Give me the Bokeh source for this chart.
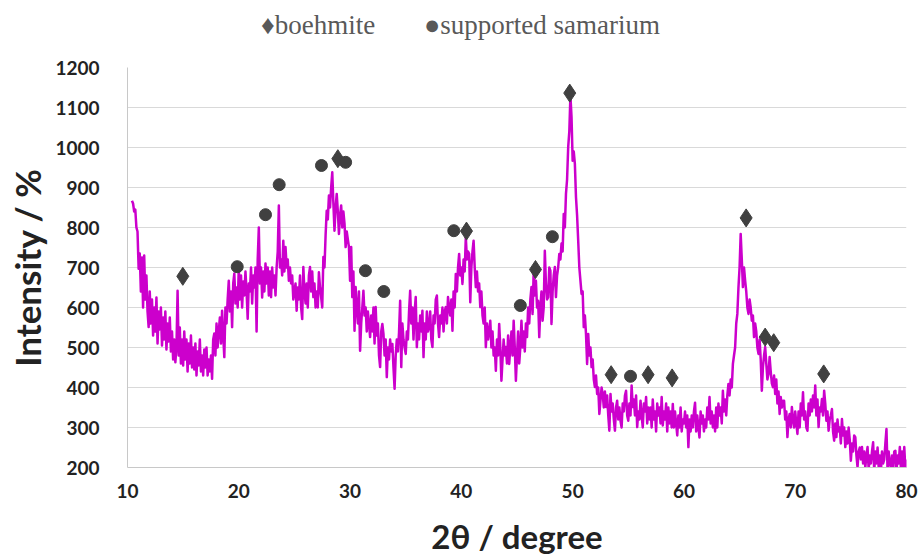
from bokeh.plotting import figure
from bokeh.models import Range1d, FixedTicker, Div
from bokeh.layouts import column
from bokeh.embed import file_html
from bokeh.resources import INLINE

# XRD scan: 2-theta grid (start and step of the scan) and measured intensity
two_theta_start = 10.4
two_theta_step = 0.1
intensity = [
    867, 860, 840, 845, 800, 790,
    697, 735, 640, 725, 600, 730, 620, 680, 590, 551,
    640, 560, 620, 530, 600, 540, 625, 510, 590, 545,
    600, 505, 575, 520, 590, 495, 560, 515, 575, 490,
    540, 470, 520, 463, 500, 642, 480, 550, 460, 520,
    455, 540, 470, 520, 440, 510, 460, 530, 450, 500,
    445, 510, 430, 490, 455, 520, 440, 480, 430, 495,
    450, 500, 430, 470, 440, 480, 422, 520, 535, 480,
    560, 500, 540, 575, 510, 592, 530, 476, 600, 560,
    620, 667, 590, 640, 551, 660, 685, 610, 650, 600,
    700, 620, 680, 600, 665, 630, 690, 640, 572, 660,
    640, 700, 610, 680, 650, 700, 540, 720, 800, 660,
    700, 625, 690, 640, 710, 660, 700, 630, 690, 626,
    700, 650, 680, 630, 700, 740, 855, 700, 720, 680,
    767, 690, 751, 700, 720, 667, 700, 660, 680, 620,
    640, 660, 592, 650, 620, 680, 600, 571, 701, 640,
    610, 660, 600, 680, 701, 640, 690, 626, 660, 600,
    640, 600, 688, 650, 626, 600, 726, 700, 780, 842,
    820, 880, 850, 900, 938, 860, 792, 850, 884, 840,
    784, 830, 855, 800, 840, 810, 751, 790, 770, 751,
    667, 751, 626, 690, 542, 651, 600, 560, 640, 492,
    560, 600, 642, 580, 600, 540, 590, 560, 526, 580,
    540, 600, 510, 601, 530, 560, 480, 451, 540, 559,
    534, 480, 520, 426, 500, 470, 520, 490, 509, 450,
    397, 480, 520, 490, 538, 617, 451, 560, 520, 500,
    484, 540, 520, 590, 642, 560, 600, 520, 590, 626,
    501, 560, 520, 580, 540, 592, 476, 560, 520, 590,
    540, 551, 590, 520, 501, 580, 560, 620, 630, 560,
    526, 580, 560, 600, 540, 590, 601, 560, 626, 600,
    580, 620, 542, 640, 600, 684, 640, 700, 734, 680,
    700, 659, 720, 690, 776, 720, 740, 734, 613, 700,
    740, 767, 700, 651, 690, 640, 660, 601, 640, 580,
    560, 600, 501, 560, 520, 540, 567, 500, 540, 480,
    500, 442, 520, 480, 559, 500, 417, 470, 520, 480,
    501, 460, 530, 459, 500, 540, 480, 567, 500, 417,
    480, 540, 460, 501, 567, 500, 540, 490, 560, 526,
    600, 560, 620, 651, 584, 692, 630, 667, 600, 617,
    526, 600, 640, 567, 600, 742, 660, 620, 626, 700,
    692, 559, 640, 680, 701, 626, 680, 700, 734, 720,
    760, 740, 834, 800, 884, 920, 1001, 1040, 1130, 1076,
    967, 990, 959, 876, 830, 767, 700, 667, 634, 640,
    551, 580, 534, 459, 534, 480, 500, 451, 470, 420,
    401, 430, 384, 400, 334, 367, 400, 384, 350, 390,
    351, 380, 330, 292, 384, 340, 360, 320, 292, 350,
    367, 320, 350, 317, 300, 360, 340, 380, 392, 330,
    317, 360, 330, 405, 351, 370, 330, 380, 301, 340,
    320, 367, 330, 300, 360, 340, 376, 310, 350, 320,
    350, 300, 370, 320, 340, 290, 360, 330, 350, 310,
    376, 305, 340, 320, 360, 290, 350, 310, 340, 300,
    359, 300, 340, 310, 280, 330, 300, 350, 290, 320,
    310, 340, 300, 330, 251, 320, 290, 330, 300, 340,
    362, 290, 330, 300, 275, 340, 310, 330, 290, 320,
    300, 350, 320, 376, 310, 340, 300, 330, 290, 350,
    300, 360, 330, 350, 310, 392, 340, 370, 330, 380,
    409, 380, 420, 400, 459, 480, 500, 560, 584, 650,
    700, 784, 720, 651, 700, 667, 640, 600, 584, 620,
    600, 567, 580, 526, 560, 540, 500, 484, 520, 470,
    392, 451, 480, 501, 460, 420, 434, 476, 440, 410,
    401, 430, 384, 420, 360, 390, 334, 376, 350, 367,
    367, 320, 340, 276, 320, 334, 300, 351, 320, 300,
    340, 310, 284, 340, 300, 360, 330, 388, 320, 340,
    300, 292, 360, 330, 370, 340, 380, 350, 405, 330,
    370, 301, 350, 340, 371, 330, 392, 360, 317, 340,
    292, 320, 330, 346, 290, 267, 310, 276, 320, 290,
    300, 260, 321, 280, 300, 251, 290, 260, 300, 270,
    217, 260, 240, 280, 276, 230, 201, 240, 250, 220,
    251, 210, 240, 200, 230, 251, 195, 230, 210, 240,
    263, 190, 240, 210, 250, 200, 230, 190, 240, 210,
    220, 260, 296, 190, 240, 210, 200, 230, 195, 240,
    242, 190, 230, 210, 251, 195, 240, 200, 251, 195,
    220,
]
two_theta = [round(two_theta_start + i * two_theta_step, 2) for i in range(len(intensity))]

# Phase reflections
boehmite_x = [14.97, 28.9, 40.46, 46.66, 49.74, 53.46, 56.78, 58.94, 65.59, 67.3, 68.07, 72.56]
boehmite_y = [678, 972, 791, 695, 1136, 432, 432, 424, 824, 526, 512, 434]
samarium_x = [19.86, 22.4, 23.63, 27.43, 29.6, 31.38, 33.03, 39.32, 45.3, 48.18, 55.2]
samarium_y = [702, 832, 907, 955, 963, 692, 640, 792, 605, 777, 428]

x_ticks = [10, 20, 30, 40, 50, 60, 70, 80]
y_ticks = [200, 300, 400, 500, 600, 700, 800, 900, 1000, 1100, 1200]

# Key line above the chart
key_html = (
    '<div style="position:relative;width:920px;height:57px;'
    "font-family:'Liberation Serif','Times New Roman',serif;font-size:27px;color:#595959;"
    'line-height:30px;white-space:nowrap;">'
    '<span style="position:absolute;left:261px;top:10px;">♦boehmite</span>'
    '<span style="position:absolute;left:424px;top:10px;">●supported&nbsp;samarium</span>'
    '</div>'
)
key = Div(text=key_html, width=920, height=57, margin=0)

p = figure(width=920, height=501, output_backend="svg", toolbar_location=None,
           x_range=Range1d(10, 80), y_range=Range1d(200, 1200), margin=0,
           min_border_left=127, min_border_right=14, min_border_top=10, min_border_bottom=91)
p.outline_line_color = None
p.background_fill_color = "white"
p.border_fill_color = "white"

p.line(two_theta, intensity, line_color="#CC00CC", line_width=2.5, line_join="round")
p.scatter(boehmite_x, boehmite_y, marker="diamond", size=18, fill_color="#404040", line_color="#404040")
p.scatter(samarium_x, samarium_y, marker="circle", size=12, fill_color="#404040", line_color="#404040")

tick_font = "Lato"
p.xaxis.ticker = FixedTicker(ticks=x_ticks)
p.yaxis.ticker = FixedTicker(ticks=y_ticks)
p.xgrid.grid_line_color = None
p.ygrid.grid_line_color = "#d9d9d9"
p.ygrid.grid_line_width = 1

for ax in (p.xaxis[0], p.yaxis[0]):
    ax.axis_line_color = "#c8c8c8"
    ax.major_tick_line_color = None
    ax.minor_tick_line_color = None
    ax.major_label_text_font = tick_font
    ax.major_label_text_font_style = "bold"
    ax.major_label_text_font_size = "19px"
    ax.major_label_text_color = "#222222"
    ax.axis_label_text_font = tick_font
    ax.axis_label_text_font_style = "bold"
    ax.axis_label_text_color = "#222222"

p.xaxis.axis_label = "2θ / degree"
p.xaxis.axis_label_text_font_size = "33px"
p.xaxis.major_label_standoff = 10
p.xaxis.axis_label_standoff = 15
p.yaxis.axis_label = "Intensity / %"
p.yaxis.axis_label_text_font_size = "35px"
p.yaxis.major_label_standoff = 22
p.yaxis.axis_label_standoff = 4

layout = column(key, p, spacing=0, margin=0)
open("out.html", "w").write(file_html(layout, INLINE))
